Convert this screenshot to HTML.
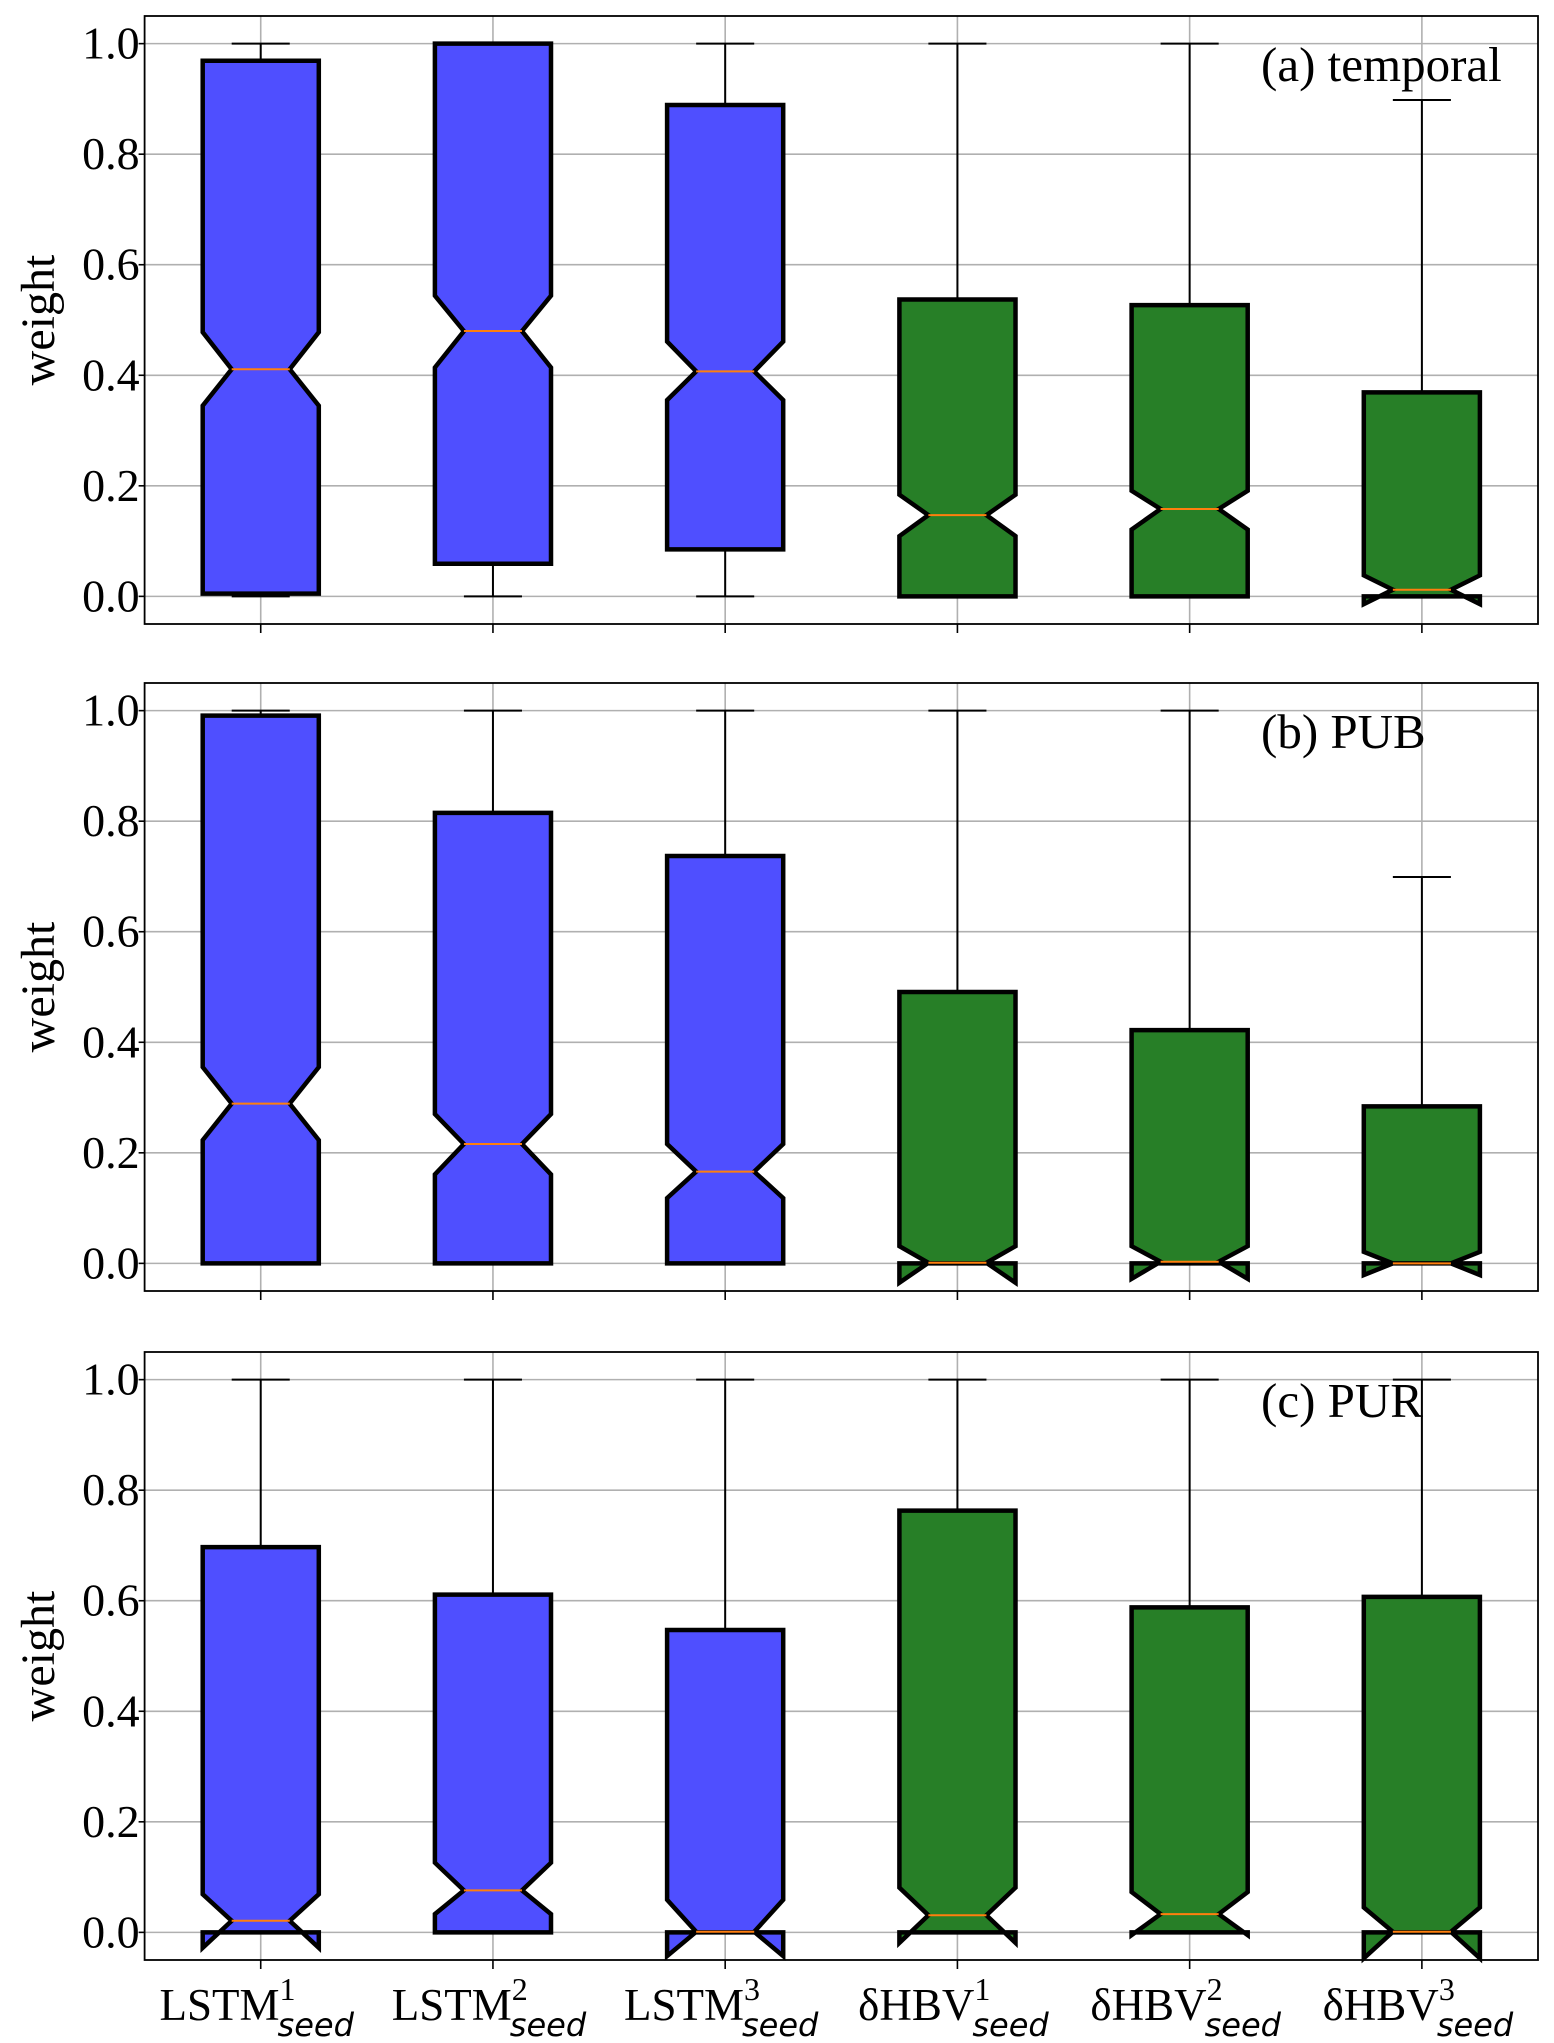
<!DOCTYPE html>
<html><head><meta charset="utf-8"><style>
body{margin:0;background:#fff}
svg{display:block}
text{font-family:"Liberation Serif",serif;fill:#000}
</style></head><body>
<svg id="chart" width="1554" height="2043" viewBox="0 0 1554 2043" xmlns="http://www.w3.org/2000/svg"></svg>
<script>
const categories=["LSTM","LSTM","LSTM","δHBV","δHBV","δHBV"];
const seeds=["1","2","3","1","2","3"];
const panelTitles=["(a) temporal","(b) PUB","(c) PUR"];
const yTicks=[0,0.2,0.4,0.6,0.8,1.0];
const yTickLabels=["0.0","0.2","0.4","0.6","0.8","1.0"];
const q1=[[0.005,0.059,0.085,0,0,0],[0,0,0,0,0,0],[0,0,0,0,0,0]];
const med=[[0.411,0.48,0.407,0.147,0.158,0.012],[0.289,0.216,0.166,0.001,0.003,0],[0.021,0.076,0.001,0.031,0.033,0.001]];
const q3=[[0.969,1.0,0.889,0.537,0.527,0.369],[0.991,0.815,0.737,0.491,0.422,0.284],[0.697,0.611,0.547,0.763,0.588,0.607]];
const notchLo=[[0.345,0.414,0.355,0.109,0.121,-0.014],[0.223,0.161,0.118,-0.035,-0.028,-0.021],[-0.028,0.033,-0.043,-0.019,-0.005,-0.047]];
const notchHi=[[0.478,0.544,0.461,0.184,0.191,0.038],[0.355,0.27,0.216,0.031,0.031,0.021],[0.069,0.126,0.059,0.081,0.073,0.045]];
const whiskLo=[[0,0,0,0,0,0],[0,0,0,0,0,0],[0,0,0,0,0,0]];
const whiskHi=[[1,1,1,1,1,0.898],[1,1,1,1,1,0.699],[1,1,1,1,1,1]];
const colors=["#4f4fff","#4f4fff","#4f4fff","#277f27","#277f27","#277f27"];

const svg=document.getElementById('chart');
const NS="http://www.w3.org/2000/svg";
function mk(tag,attrs,parent){const e=document.createElementNS(NS,tag);for(const k in attrs)e.setAttribute(k,attrs[k]);(parent||svg).appendChild(e);return e;}
const L=144.6,R=1538,panelTops=[16,683,1352],PH=608,ymin=-0.05,ymax=1.05;
const step=(R-L)/6;
const xs=i=>L+step*(i+0.5);
panelTops.forEach((top,p)=>{
  const ys=v=>top+PH*(ymax-v)/(ymax-ymin);
  const g=mk('g',{});
  
  
  yTicks.forEach((t,k)=>{
    const ln=mk('line',{x1:L,x2:R,y1:ys(t),y2:ys(t),stroke:'#b0b0b0','stroke-width':1.6},g);
    
    const tk=mk('line',{x1:L-6,x2:L,y1:ys(t),y2:ys(t),stroke:'#000','stroke-width':1.6},g);
    
    const tx=mk('text',{x:L-5,y:ys(t)+15,'text-anchor':'end','font-size':46},g);
    tx.textContent=yTickLabels[k];
    
  });
  for(let i=0;i<6;i++){
    const ln=mk('line',{x1:xs(i),x2:xs(i),y1:top,y2:top+PH,stroke:'#b0b0b0','stroke-width':1.6},g);
    
    const tk=mk('line',{x1:xs(i),x2:xs(i),y1:top+PH,y2:top+PH+9,stroke:'#000','stroke-width':1.6},g);
    
  }
  const yl=mk('text',{x:0,y:0,'font-size':48,'text-anchor':'middle',transform:`translate(54,${top+PH/2}) rotate(-90)`},g);
  yl.textContent='weight';
  
  for(let i=0;i<6;i++){
    const cx=xs(i),hw=step*0.25,nw=hw*0.5,cw=step*0.125;
    const bg=mk('g',{},g);
    
    
    [[whiskLo[p][i],q1[p][i]],[q3[p][i],whiskHi[p][i]]].forEach(([a,b])=>{
      const w=mk('line',{x1:cx,x2:cx,y1:ys(a),y2:ys(b),stroke:'#000','stroke-width':2},bg);
      
    });
    [whiskLo[p][i],whiskHi[p][i]].forEach(v=>{
      const c=mk('line',{x1:cx-cw,x2:cx+cw,y1:ys(v),y2:ys(v),stroke:'#000','stroke-width':2},bg);
      
    });
    const pts=[[cx-hw,q1[p][i]],[cx-hw,notchLo[p][i]],[cx-nw,med[p][i]],[cx-hw,notchHi[p][i]],[cx-hw,q3[p][i]],
      [cx+hw,q3[p][i]],[cx+hw,notchHi[p][i]],[cx+nw,med[p][i]],[cx+hw,notchLo[p][i]],[cx+hw,q1[p][i]]];
    const d='M'+pts.map(q=>q[0].toFixed(1)+','+ys(q[1]).toFixed(1)).join('L')+'Z';
    const b=mk('path',{d:d,fill:colors[i],stroke:'#000','stroke-width':4.5,'stroke-linejoin':'miter'},bg);
    
    const m=mk('line',{x1:cx-nw,x2:cx+nw,y1:ys(med[p][i]),y2:ys(med[p][i]),stroke:'#ff7f0e','stroke-width':2},bg);
    
  }
  const fr=mk('rect',{x:L,y:top,width:R-L,height:PH,fill:'none',stroke:'#000','stroke-width':1.8},g);
  
  const tt=mk('text',{x:1261,y:top+65,'font-size':49},g);
  tt.textContent=panelTitles[p];
  
  if(p===2){
    for(let i=0;i<6;i++){
      const t=mk('text',{x:xs(i)-4,y:2020,'text-anchor':'middle','font-size':45},g);
      
      const a=document.createElementNS(NS,'tspan');a.textContent=categories[i];t.appendChild(a);
      const s=document.createElementNS(NS,'tspan');s.setAttribute('dy','-20');s.setAttribute('font-size','32');s.textContent=seeds[i];t.appendChild(s);
      const b=document.createElementNS(NS,'tspan');b.setAttribute('dx','-18');b.setAttribute('dy','36');b.setAttribute('font-size','32');b.setAttribute('font-style','italic');b.setAttribute('style','font-family:"DejaVu Sans",sans-serif');b.textContent='seed';t.appendChild(b);
    }
  }
});
</script>
</body></html>
